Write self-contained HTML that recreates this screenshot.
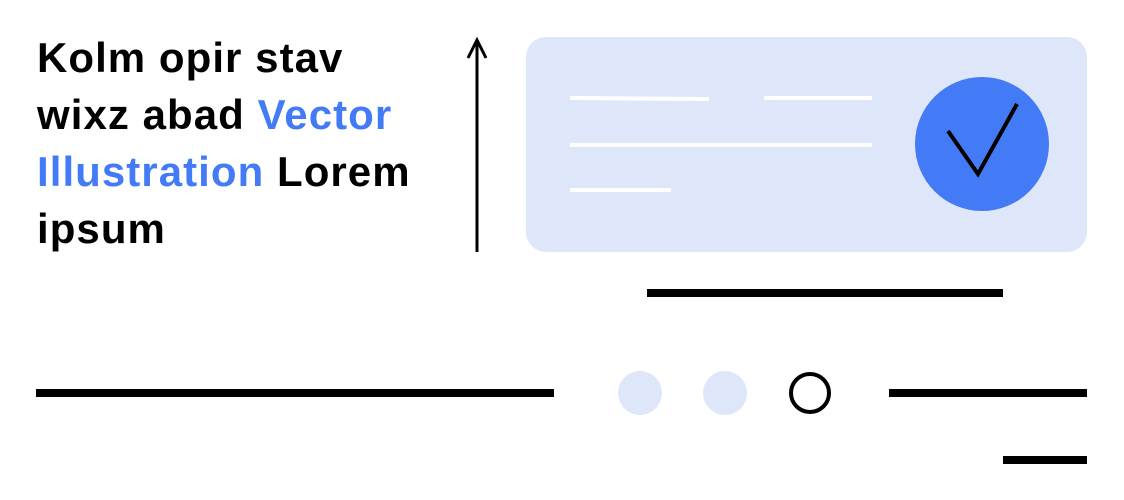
<!DOCTYPE html>
<html><head><meta charset="utf-8"><style>
html,body{margin:0;padding:0;background:#fff;width:1124px;height:500px;overflow:hidden}
.t{position:absolute;left:37px;top:29px;font-family:"Liberation Sans",sans-serif;font-weight:bold;font-size:42px;line-height:57px;color:#000;width:440px;letter-spacing:1.05px;white-space:nowrap}
.b{color:#437bf6}
</style></head><body>
<div class="t">Kolm opir stav<br>wixz abad <span class="b">Vector</span><br><span class="b">Illustration</span> Lorem<br>ipsum</div>
<svg width="1124" height="500" style="position:absolute;left:0;top:0">
<line x1="477" y1="252" x2="477" y2="40" stroke="#000" stroke-width="3"/>
<polyline points="468,58 477,40 486,58" fill="none" stroke="#000" stroke-width="3"/>
<rect x="526" y="37" width="561" height="215" rx="20" fill="#dde7f9"/>
<g stroke="#fff" stroke-width="4">
<line x1="570" y1="98" x2="709" y2="99"/>
<line x1="764" y1="98" x2="872" y2="98"/>
<line x1="570" y1="145" x2="872" y2="145"/>
<line x1="570" y1="190" x2="671" y2="190"/>
</g>
<circle cx="982" cy="144" r="67" fill="#437bf6"/>
<polyline points="948,131 978,174 1017,104" fill="none" stroke="#000" stroke-width="4"/>
<g stroke="#000" stroke-width="8">
<line x1="647" y1="293" x2="1003" y2="293"/>
<line x1="36" y1="393" x2="554" y2="393"/>
<line x1="889" y1="393" x2="1087" y2="393"/>
<line x1="1003" y1="460" x2="1087" y2="460"/>
</g>
<circle cx="640" cy="393" r="22" fill="#dde7f9"/>
<circle cx="725" cy="393" r="22" fill="#dde7f9"/>
<circle cx="810" cy="393" r="19" fill="none" stroke="#000" stroke-width="4"/>
</svg>
</body></html>
